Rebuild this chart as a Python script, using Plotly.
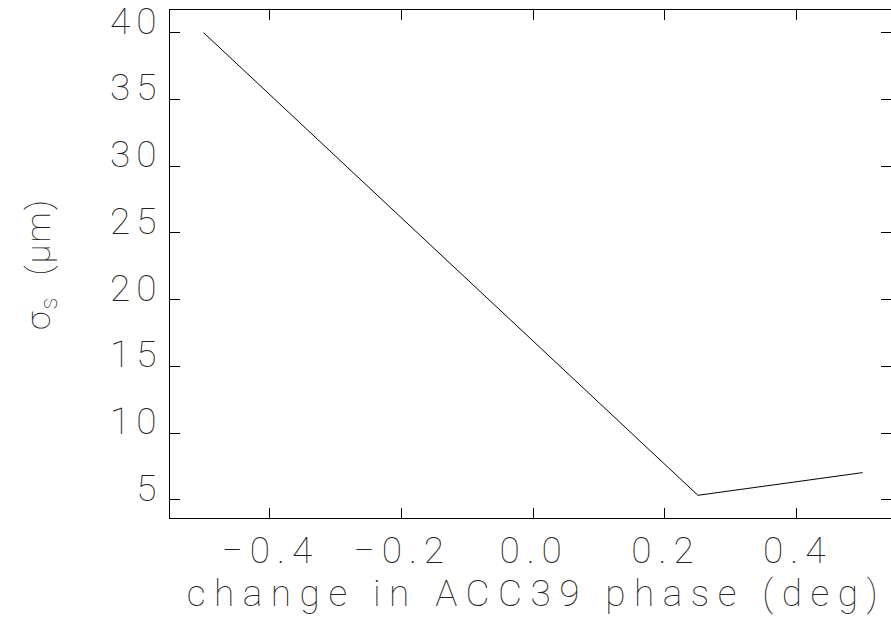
import plotly.graph_objects as go

phase_change = [-0.5, 0.25, 0.5]
sigma_s = [40.0, 5.35, 7.05]

x_ticks = [-0.4, -0.2, 0.0, 0.2, 0.4]
y_ticks = [5, 10, 15, 20, 25, 30, 35, 40]

FONT = "Roboto"
TXT = "#222"

fig = go.Figure()
fig.add_trace(go.Scatter(x=phase_change, y=sigma_s, mode="lines",
                         line=dict(color="black", width=1), showlegend=False))

fig.update_layout(
    width=891, height=620,
    margin=dict(l=170, r=0, t=10, b=102),
    paper_bgcolor="white", plot_bgcolor="white",
    font=dict(family=FONT, color=TXT, size=30, weight=100),
)
fig.update_xaxes(
    range=[-0.551, 0.543], tickvals=x_ticks, tickformat=".1f",
    ticks="inside", ticklen=10, tickcolor="black", showgrid=False, zeroline=False,
    showline=True, linecolor="black", linewidth=1, mirror="ticks",
    ticklabelstandoff=0,
    tickfont=dict(family=FONT, size=37, weight=100, color=TXT),
    title=dict(text="change in ACC39 phase (deg)", standoff=0,
               font=dict(family=FONT, size=37, weight=100, color=TXT)),
)
fig.update_yaxes(
    range=[3.65, 41.7], tickvals=y_ticks,
    ticks="inside", ticklen=10, tickcolor="black", showgrid=False, zeroline=False,
    showline=True, linecolor="black", linewidth=1, mirror="ticks",
    ticklabelshift=-12, ticklabelstandoff=0, ticklabeloverflow="allow",
    tickfont=dict(family=FONT, size=37, weight=100, color=TXT),
    title=dict(text="σ<sub>s</sub>  (μm)", standoff=60,
               font=dict(family=FONT, size=34, weight=100, color=TXT)),
)

post = """
var gd = document.getElementById('{plot_id}');
function spread(){
  gd.querySelectorAll('.xtick text').forEach(function(t){ t.style.letterSpacing='7px'; t.setAttribute('dx','1'); });
  gd.querySelectorAll('.ytick text').forEach(function(t){ t.style.letterSpacing='6px'; t.setAttribute('dx','1'); });
  gd.querySelectorAll('.g-xtitle text').forEach(function(t){ t.style.letterSpacing='8.5px'; t.setAttribute('dx','6'); });
  gd.querySelectorAll('.g-ytitle text').forEach(function(t){ t.style.letterSpacing='2px'; });
}
spread();
"""

fig.write_html("out.html", post_script=post)
